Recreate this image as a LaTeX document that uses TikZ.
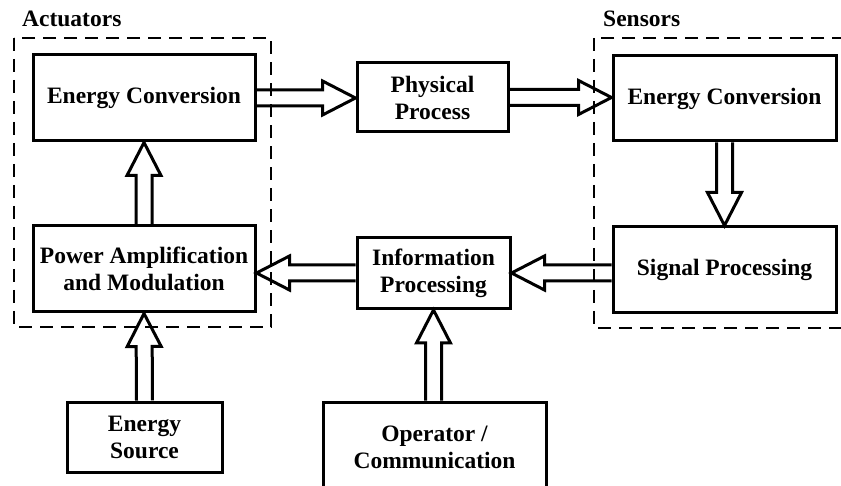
\documentclass[tikz,border=0pt]{standalone}
\usepackage{fontspec}
\setmainfont{Liberation Serif}
\usetikzlibrary{calc}

\tikzset{
  blk/.style={draw, line width=3pt, align=center, inner sep=0pt,
    font=\bfseries\fontsize{23.5}{27}\selectfont},
  groupframe/.style={draw, line width=2pt, dash pattern=on 13pt off 8pt},
  grouplabel/.style={anchor=base west, inner sep=0pt,
    font=\bfseries\fontsize{23.5}{27}\selectfont},
  hollow/.style={draw, line width=3pt, line join=miter, miter limit=10}
}

% hollow block arrow from #1 to #2 (tip at #2)
\newcommand\hollowarrow[2]{%
  \coordinate (ha-s) at (#1);
  \coordinate (ha-e) at (#2);
  \coordinate (ha-h) at ($(ha-e)!33pt!(ha-s)$);
  \draw[hollow] ($(ha-s)!8pt!90:(ha-e)$) -- ($(ha-h)!8pt!90:(ha-e)$)
    -- ($(ha-h)!17pt!90:(ha-e)$) -- (ha-e)
    -- ($(ha-h)!17pt!-90:(ha-e)$) -- ($(ha-h)!8pt!-90:(ha-e)$)
    -- ($(ha-s)!8pt!-90:(ha-e)$);
}

\begin{document}
\begin{tikzpicture}[x=1pt, y=-1pt]
  \useasboundingbox (0,0) rectangle (841,486);
  \clip (0,0) rectangle (841,486);

  % group frames and their titles
  \draw[groupframe] (14,38) rectangle (271,327);
  \draw[groupframe] (594,38) rectangle (860,328);
  \node[grouplabel] (actlabel) at (22,27) {Actuators};
  \node[grouplabel] (senlabel) at (603,27) {Sensors};

  % blocks
  \node[blk, minimum width=222pt, minimum height=86pt] (ecA) at (144,98) {Energy Conversion};
  \node[blk, minimum width=222pt, minimum height=86pt] (pa) at (144,269) {Power Amplification\\and Modulation};
  \node[blk, minimum width=151pt, minimum height=69pt] (pp) at (432.5,97.5) {Physical\\Process};
  \node[blk, minimum width=153pt, minimum height=71pt] (ip) at (433.5,273) {Information\\Processing};
  \node[blk, minimum width=223pt, minimum height=85pt] (ecB) at (724.5,98.5) {Energy Conversion};
  \node[blk, minimum width=223pt, minimum height=86pt] (sp) at (724.5,270) {Signal Processing};
  \node[blk, minimum width=155pt, minimum height=70pt] (es) at (144.5,437) {Energy\\Source};
  \node[blk, minimum width=223pt, minimum height=90pt] (oc) at (434.5,447) {Operator /\\Communication};

  % flow arrows
  \hollowarrow{ecA.east}{ecA.east -| pp.west}
  \hollowarrow{pp.east}{pp.east -| ecB.west}
  \hollowarrow{ecB.south}{sp.north}
  \hollowarrow{ip.east -| sp.west}{ip.east}
  \hollowarrow{ip.west}{ip.west -| pa.east}
  \hollowarrow{pa.north}{ecA.south}
  \hollowarrow{es.north}{pa.south}
  \hollowarrow{ip.south |- oc.north}{ip.south}
\end{tikzpicture}
\end{document}
